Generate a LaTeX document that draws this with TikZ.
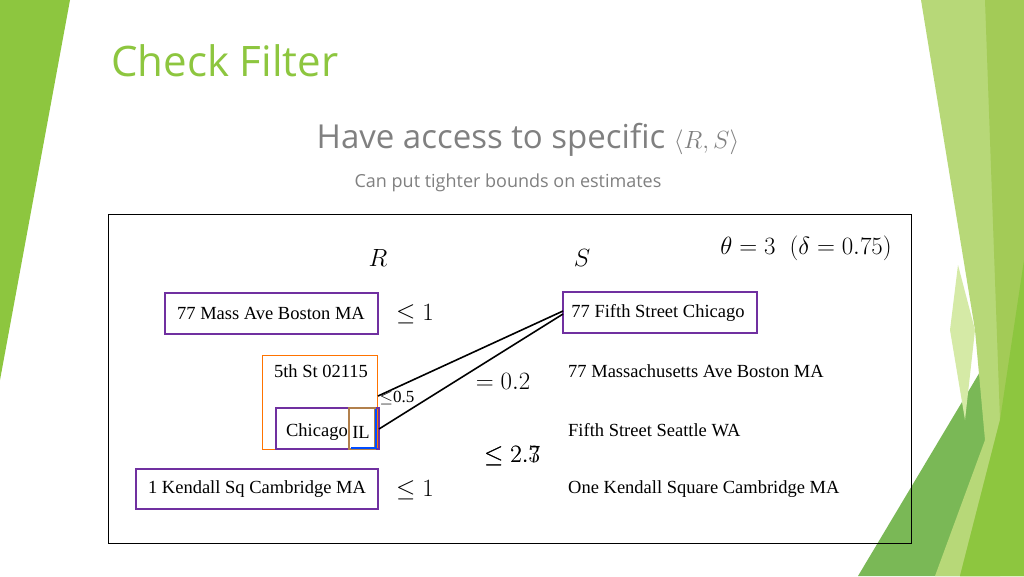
\documentclass[tikz,border=0pt]{standalone}
\usepackage{fontspec}
\setmainfont{Liberation Serif}
\newfontfamily\osans{Open Sans}
\begin{document}
\begin{tikzpicture}[x=1pt,y=-1pt,
  lab/.style={font=\fontsize{18.5}{21}\selectfont,inner sep=0pt},
  mth/.style={font=\fontsize{27}{30}\selectfont,inner sep=0pt}]
\definecolor{g1}{HTML}{8DC63F}
\definecolor{g2}{HTML}{B7D878}
\definecolor{g3}{HTML}{A3CB57}
\definecolor{g4}{HTML}{D5EAA6}
\definecolor{g5}{HTML}{7AB856}
\definecolor{pur}{HTML}{7030A0}
\definecolor{txtg}{HTML}{808080}
\tikzset{pbox/.style={draw=pur,line width=1.6pt}}
\useasboundingbox (0,0) rectangle (1024,576);
\fill[white] (0,0) rectangle (1024,576);
% decorations
\fill[g1] (0,0) -- (70,0) -- (0,380) -- cycle;
\fill[g5] (858,576) -- (1005,330) -- (1000,576) -- cycle;
\fill[g2] (921,0) -- (1024,0) -- (1024,576) -- (935,576) -- (985,440) -- (975,330) -- cycle;
\fill[g3] (985,0) -- (1024,0) -- (1024,576) -- (960,576) -- (1000,420) -- cycle;
\fill[g4] (958,265) -- (975,330) -- (965,420) -- (950,330) -- cycle;
\fill[g1] (960,576) -- (1000,420) -- (1024,260) -- (1024,576) -- cycle;
% title
\node[anchor=west,text=g1,font=\osans\fontsize{42}{46}\selectfont,inner sep=0pt] (title) at (111,61) {Check Filter};
\node[text=txtg,font=\osans\fontsize{33}{36}\selectfont,inner sep=0pt] (head) at (528,140) {Have access to specific {\fontsize{44}{48}\selectfont$\langle R,S\rangle$}};
\node[text=txtg,font=\osans\fontsize{18}{20}\selectfont,inner sep=0pt] (sub) at (508,183) {Can put tighter bounds on estimates};
% frame
\draw[line width=1pt] (108,214) rectangle (911,543);
\node[mth] (R) at (378,258) {$R$};
\node[mth] (S) at (582,258) {$S$};
\node[font=\fontsize{28}{31}\selectfont,inner sep=0pt] (th) at (806,248) {$\theta=3\ \ (\delta=0.75)$};
% boxes
\draw[pbox] (165,293) rectangle (378,334);
\node[lab] (r1) at (271,313) {77 Mass Ave Boston MA};
\draw[pbox] (563,292) rectangle (757,333);
\node[lab] (s1) at (658,313) {77 Fifth Street Chicago};
\draw[draw=orange!90!red,line width=1pt] (262,355) rectangle (377,449);
\node[lab] (r2) at (321,371) {5th St 02115};
\draw[pbox] (276,408) rectangle (379,449);
\draw[draw=brown!80!gray,line width=1.4pt] (349,408) rectangle (375,449);
\draw[draw=blue!70!cyan,line width=1.2pt] (351,448) -- (376,448) -- (376,409);
\node[lab,anchor=east] (r3) at (348,432) {Chicago};
\node[lab] (r3b) at (361,432) {IL};
\draw[pbox] (136,469) rectangle (378,509);
\node[lab] (r4) at (257,489) {1 Kendall Sq Cambridge MA};
\node[lab,anchor=west] (s2) at (568,371) {77 Massachusetts Ave Boston MA};
\node[lab,anchor=west] (s3) at (568,430) {Fifth Street Seattle WA};
\node[lab,anchor=west] (s4) at (568,489) {One Kendall Square Cambridge MA};
% connectors
\coordinate (a1) at (563,311);
\coordinate (a2) at (563,314);
\coordinate (b1) at (378,396);
\coordinate (b2) at (379,429);
\draw[line width=1.6pt] (a1) -- (b1);
\draw[line width=1.6pt] (a2) -- (b2);
% labels
\node[mth] (l1) at (415,314) {$\leq 1$};
\node[mth] (l2) at (503,381) {$=0.2$};
\node[inner sep=0pt,font=\fontsize{17}{19}\selectfont] (l3) at (397,398) {$\leq$0.5};
\node[mth] (l4) at (512,456) {$\leq 2.7$};
\node[mth] (l4b) at (512,456) {$\leq 2.3$};
\node[mth] (l5) at (415,490) {$\leq 1$};
\end{tikzpicture}
\end{document}
